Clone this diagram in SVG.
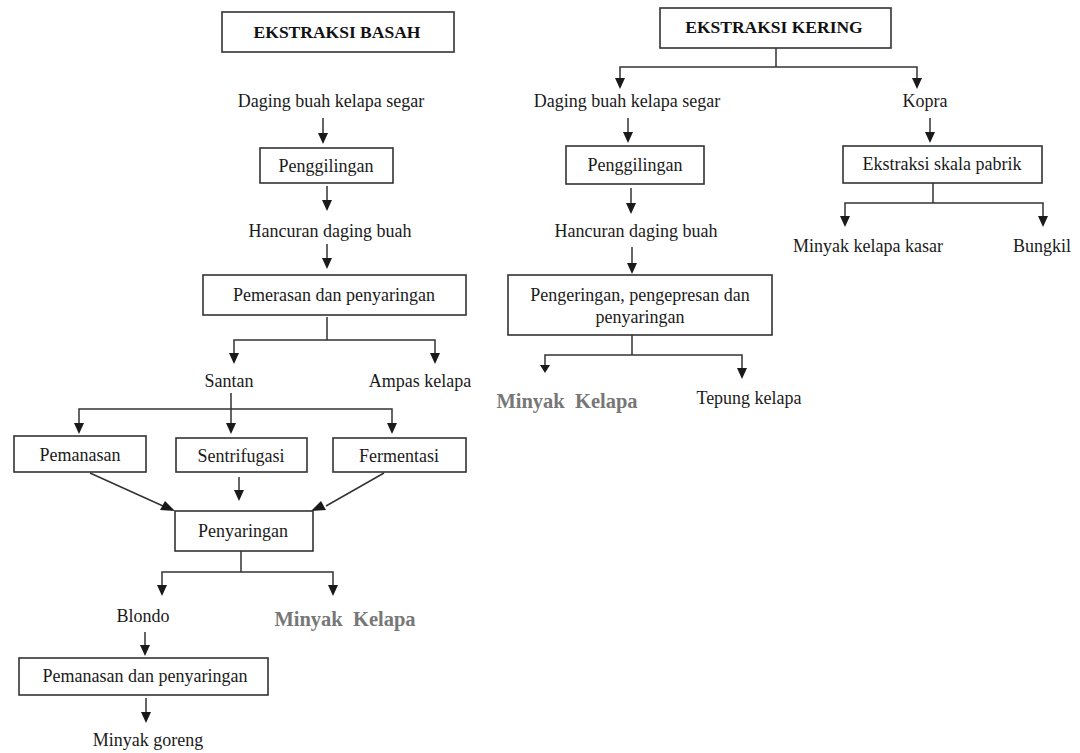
<svg xmlns="http://www.w3.org/2000/svg" width="1080" height="753" viewBox="0 0 1080 753">
<defs>
<style>
.box{fill:#fff;stroke:#333;stroke-width:1.6}
.t{font-family:"Liberation Serif","Times New Roman",serif;font-size:18px;fill:#1a1a1a;text-anchor:middle}
.h{font-family:"Liberation Serif","Times New Roman",serif;font-size:17.5px;font-weight:bold;fill:#111;text-anchor:middle}
.g{font-family:"Liberation Serif","Times New Roman",serif;font-size:20.5px;font-weight:bold;fill:#777;text-anchor:middle;white-space:pre}
.c{fill:none;stroke:#333;stroke-width:1.5}
</style>
</defs>
<rect width="1080" height="753" fill="#fff"/>

<g id="connectors">
<path class="c" d="M323,118 V134"/>
<path class="c" d="M327,186 V201"/>
<path class="c" d="M327,244 V259"/>
<path class="c" d="M327,317 V340 M234,355 V340 H435 V355"/>
<path class="c" d="M231,393 V409 M79,424 V409 H392 V424 M231,409 V424"/>
<path class="c" d="M90,473 L163,506 M384,473 L326,506"/>
<path class="c" d="M239,477 V491"/>
<path class="c" d="M241,551 V572 M162,586 V572 H333 V586"/>
<path class="c" d="M145,632 V646"/>
<path class="c" d="M146,698 V713"/>
<path class="c" d="M776,48 V67 M620,79 V67 H917 V79"/>
<path class="c" d="M628,118 V133"/>
<path class="c" d="M631,188 V204"/>
<path class="c" d="M632,247 V264"/>
<path class="c" d="M632,335 V355 M545,366 V355 H742 V369"/>
<path class="c" d="M930,118 V133"/>
<path class="c" d="M933,183 V203 M845,217 V203 H1043 V217"/>
<g id="arrowheads" fill="#1a1a1a">
<path d="M318,133 h10 l-5,11 z"/>
<path d="M322,200 h10 l-5,11 z"/>
<path d="M322,258 h10 l-5,11 z"/>
<path d="M229,353 h10 l-5,11 z"/>
<path d="M430,353 h10 l-5,11 z"/>
<path d="M74,423 h10 l-5,11 z"/>
<path d="M226,423 h10 l-5,11 z"/>
<path d="M387,423 h10 l-5,11 z"/>
<path d="M234,490 h10 l-5,11 z"/>
<path d="M157,585 h10 l-5,11 z"/>
<path d="M328,585 h10 l-5,11 z"/>
<path d="M140,645 h10 l-5,11 z"/>
<path d="M141,712 h10 l-5,11 z"/>
<path d="M165,501 L175,511 L160,510 z"/>
<path d="M321,501 L311,511 L326,510 z"/>
<path d="M615,78 h10 l-5,11 z"/>
<path d="M912,78 h10 l-5,11 z"/>
<path d="M623,132 h10 l-5,11 z"/>
<path d="M626,203 h10 l-5,11 z"/>
<path d="M627,263 h10 l-5,11 z"/>
<path d="M540,365 h10 l-5,8 z"/>
<path d="M737,368 h10 l-5,11 z"/>
<path d="M925,132 h10 l-5,11 z"/>
<path d="M840,216 h10 l-5,11 z"/>
<path d="M1038,216 h10 l-5,11 z"/>
</g>
</g>

<g id="n-basah"><rect class="box" x="222" y="12" width="232" height="40"/><text class="h" x="337" y="38">EKSTRAKSI BASAH</text></g>
<g id="n-daging1"><text class="t" x="331" y="107">Daging buah kelapa segar</text></g>
<g id="n-giling1"><rect class="box" x="260" y="148" width="133" height="35"/><text class="t" x="326" y="172">Penggilingan</text></g>
<g id="n-hancur1"><text class="t" x="330" y="237">Hancuran daging buah</text></g>
<g id="n-peras"><rect class="box" x="203" y="275" width="263" height="40"/><text class="t" x="334" y="301">Pemerasan dan penyaringan</text></g>
<g id="n-santan"><text class="t" x="229" y="387">Santan</text></g>
<g id="n-ampas"><text class="t" x="420" y="387">Ampas kelapa</text></g>
<g id="n-panas"><rect class="box" x="14" y="436" width="132" height="36"/><text class="t" x="80" y="461">Pemanasan</text></g>
<g id="n-sentri"><rect class="box" x="176" y="438" width="131" height="34"/><text class="t" x="241" y="462">Sentrifugasi</text></g>
<g id="n-ferm"><rect class="box" x="333" y="438" width="133" height="34"/><text class="t" x="399" y="462">Fermentasi</text></g>
<g id="n-saring"><rect class="box" x="175" y="511" width="138" height="40"/><text class="t" x="243" y="537">Penyaringan</text></g>
<g id="n-blondo"><text class="t" x="143" y="622">Blondo</text></g>
<g id="n-minyak1"><text class="g" x="345" y="626" xml:space="preserve">Minyak  Kelapa</text></g>
<g id="n-panas2"><rect class="box" x="19" y="658" width="249" height="37"/><text class="t" x="145" y="682">Pemanasan dan penyaringan</text></g>
<g id="n-goreng"><text class="t" x="148" y="746">Minyak goreng</text></g>

<g id="n-kering"><rect class="box" x="660" y="8" width="231" height="40"/><text class="h" x="774" y="33">EKSTRAKSI KERING</text></g>
<g id="n-daging2"><text class="t" x="627" y="107">Daging buah kelapa segar</text></g>
<g id="n-giling2"><rect class="box" x="566" y="146" width="138" height="38"/><text class="t" x="635" y="171">Penggilingan</text></g>
<g id="n-hancur2"><text class="t" x="636" y="237">Hancuran daging buah</text></g>
<g id="n-kering2"><rect class="box" x="508" y="275" width="264" height="60"/><text class="t" x="640" y="301">Pengeringan, pengepresan dan</text><text class="t" x="640" y="323">penyaringan</text></g>
<g id="n-minyak2"><text class="g" x="567" y="408" xml:space="preserve">Minyak  Kelapa</text></g>
<g id="n-tepung"><text class="t" x="749" y="404">Tepung kelapa</text></g>
<g id="n-kopra"><text class="t" x="925" y="107">Kopra</text></g>
<g id="n-pabrik"><rect class="box" x="843" y="146" width="199" height="37"/><text class="t" x="942" y="170">Ekstraksi skala pabrik</text></g>
<g id="n-kasar"><text class="t" x="868" y="252">Minyak kelapa kasar</text></g>
<g id="n-bungkil"><text class="t" x="1042" y="252">Bungkil</text></g>
</svg>
